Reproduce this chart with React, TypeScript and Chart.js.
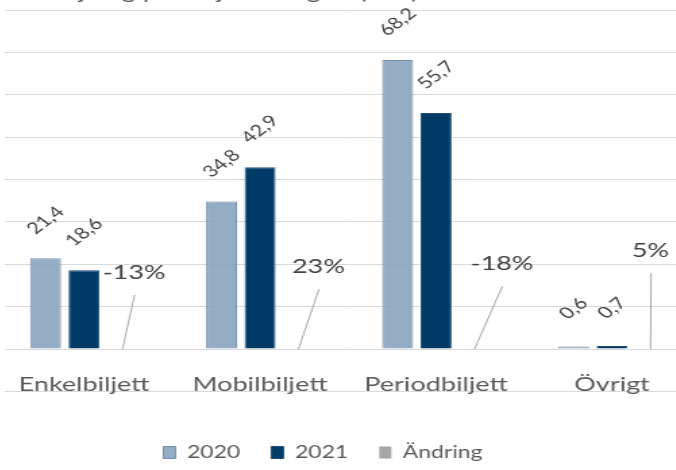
import { useEffect, useRef } from 'react';
import { Chart, registerables } from 'chart.js';

Chart.register(...registerables);

// ---- data ----
const TITLE = 'Försäljning per biljettkategori (mkr)';
const categories = ['Enkelbiljett', 'Mobilbiljett', 'Periodbiljett', 'Övrigt'];
const seriesNames = ['2020', '2021', 'Ändring'];
const sales2020 = [21.4, 34.8, 68.2, 0.6];
const sales2021 = [18.6, 42.9, 55.7, 0.7];
const change = [-0.13, 0.23, -0.18, 0.05];
const yMin = -10;
const yMax = 80;
const yStep = 10;

// ---- layout (the picture is horizontally stretched) ----
const SX = 1.35;
const CW = 565;
const CH = 472;
const X0 = -60;
const FONT = 'Lato, "Open Sans", sans-serif';
const CHANGE_COLOR = '#a5a5a5';

// callout label offsets for "Ändring" (viewport px, relative to bar foot)
const calloutDx = [11.5, 20, 27.5, 0];
const calloutDy = [-76, -82, -85, -98];

const fmtValue = (v: number) => String(v).replace('.', ',');
const fmtPct = (v: number) => `${Math.round(v * 100)}%`;

const labelsPlugin = {
  id: 'customLabels',
  beforeDatasetsDraw(chart: any) {
    const { ctx, chartArea } = chart;
    ctx.save();
    ctx.fillStyle = '#ffffff';
    ctx.fillRect(chartArea.left - 2, chartArea.top - 2, 9 / SX + 2, chartArea.bottom - chartArea.top + 4);
    // category labels
    const xScale = chart.scales.x;
    ctx.font = `20px ${FONT}`;
    ctx.fillStyle = '#595959';
    ctx.textAlign = 'center';
    ctx.textBaseline = 'alphabetic';
    categories.forEach((c, i) => {
      ctx.fillText(c, xScale.getPixelForValue(i), chartArea.bottom - 0.5);
    });
    ctx.restore();
  },
  afterDatasetsDraw(chart: any) {
    const { ctx } = chart;
    const yScale = chart.scales.y;
    const zero = yScale.getPixelForValue(0);
    ctx.save();
    [0, 1].forEach((di) => {
      const meta = chart.getDatasetMeta(di);
      meta.data.forEach((bar: any, i: number) => {
        const v = chart.data.datasets[di].data[i] as number;
        ctx.save();
        ctx.translate(bar.x, bar.y - 38);
        ctx.rotate(-Math.PI / 4);
        ctx.font = `16px ${FONT}`;
        ctx.fillStyle = '#404040';
        ctx.textAlign = 'center';
        ctx.textBaseline = 'middle';
        ctx.fillText(fmtValue(v), 0, 0);
        ctx.restore();
      });
    });
    const meta = chart.getDatasetMeta(2);
    meta.data.forEach((bar: any, i: number) => {
      const v = chart.data.datasets[2].data[i] as number;
      const lx = bar.x + calloutDx[i] / SX;
      const ly = zero + calloutDy[i];
      ctx.strokeStyle = '#a6a6a6';
      ctx.lineWidth = 1;
      ctx.beginPath();
      ctx.moveTo(bar.x, zero);
      ctx.lineTo(lx + 0.5 / SX, ly + 22);
      ctx.stroke();
      ctx.font = `20px ${FONT}`;
      ctx.fillStyle = '#404040';
      ctx.textAlign = 'center';
      ctx.textBaseline = 'middle';
      ctx.fillText(fmtPct(v), lx, ly);
    });
    ctx.restore();
  },
  afterDraw(chart: any) {
    const { ctx } = chart;
    ctx.save();
    ctx.font = `20px ${FONT}`;
    ctx.fillStyle = '#595959';
    ctx.textAlign = 'left';
    ctx.textBaseline = 'alphabetic';
    ctx.fillText(TITLE, (8 - X0) / SX, -1.5);
    ctx.restore();
  },
};

export default function App() {
  const ref = useRef<HTMLCanvasElement | null>(null);

  useEffect(() => {
    if (!ref.current) return;
    const chart = new Chart(ref.current, {
      type: 'bar',
      data: {
        labels: categories,
        datasets: [
          {
            label: seriesNames[0],
            data: sales2020,
            backgroundColor: 'rgba(134,162,188,0.88)',
            borderColor: 'rgba(108,140,170,0.95)',
            borderWidth: 1,
          },
          {
            label: seriesNames[1],
            data: sales2021,
            backgroundColor: '#003a66',
            borderColor: '#1d4d78',
            borderWidth: 1,
          },
          {
            label: seriesNames[2],
            data: change,
            backgroundColor: 'rgba(165,165,165,0)',
            borderWidth: 0,
          },
        ],
      },
      options: {
        animation: false,
        responsive: false,
        devicePixelRatio: 1,
        layout: { padding: { left: 4.4, right: 2, top: 10, bottom: 1 } },
        datasets: { bar: { categoryPercentage: 0.656, barPercentage: 0.805 } },
        scales: {
          x: {
            grid: { display: false },
            border: { display: false },
            ticks: { display: false },
            afterFit: (s: any) => {
              s.height = 29.6;
            },
          },
          y: {
            min: yMin,
            max: yMax,
            ticks: { stepSize: yStep, display: false },
            grid: { color: '#d9d9d9', drawTicks: false },
            border: { display: false },
            afterFit: (s: any) => {
              s.width = 37.1;
            },
          },
        },
        plugins: {
          legend: {
            position: 'bottom',
            labels: {
              boxWidth: 9,
              boxHeight: 12,
              padding: 23,
              color: '#595959',
              font: { family: FONT, size: 17 },
              generateLabels: (chart: any) => {
                const items = Chart.defaults.plugins.legend.labels.generateLabels(chart);
                return items.map((it: any, i: number) =>
                  i === 2 ? { ...it, fillStyle: CHANGE_COLOR, strokeStyle: CHANGE_COLOR } : it
                );
              },
            },
          },
          tooltip: { enabled: false },
          title: { display: false },
        },
      } as any,
      plugins: [labelsPlugin],
    });
    if ((document as any).fonts && (document as any).fonts.load) {
      (document as any).fonts.load(`20px Lato`).then(() => chart.update()).catch(() => {});
    }
    return () => chart.destroy();
  }, []);

  return (
    <div
      style={{
        position: 'fixed',
        left: 0,
        top: 0,
        width: 676,
        height: 470,
        overflow: 'hidden',
        background: '#ffffff',
      }}
    >
      <canvas
        ref={ref}
        width={CW}
        height={CH}
        style={{
          position: 'absolute',
          left: X0,
          top: 0,
          width: `${CW}px`,
          height: `${CH}px`,
          transform: `scaleX(${SX})`,
          transformOrigin: '0 0',
        }}
      />
    </div>
  );
}
